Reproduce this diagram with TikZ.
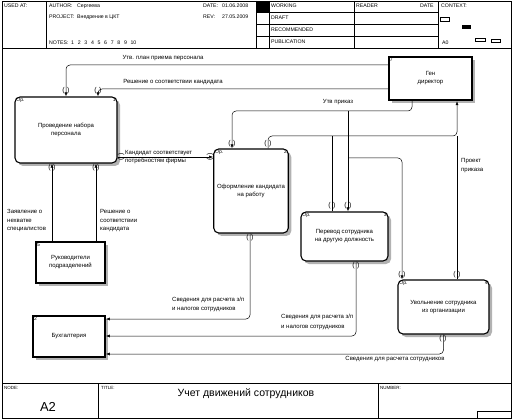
\documentclass[tikz,border=0pt]{standalone}
\usepackage{fontspec}
\setmainfont{Liberation Sans}
\usetikzlibrary{arrows.meta,shadows}

\begin{document}
\begin{tikzpicture}[x=1pt,y=-1pt,
    >={Latex[length=4pt,width=3pt]},
    txt/.style={font=\fontsize{6}{8}\selectfont,inner sep=0pt},
    hdr/.style={font=\fontsize{5.2}{6}\selectfont,inner sep=0pt,anchor=west},
    ftr/.style={font=\fontsize{4.5}{5}\selectfont,inner sep=0pt,anchor=west},
    proc/.style={draw,rounded corners=5pt,line width=1.1pt,fill=white,
      drop shadow={shadow xshift=3pt,shadow yshift=-3pt,fill=gray!60,opacity=1},
      align=center,font=\fontsize{6}{8}\selectfont},
    ext/.style={draw,line width=1.6pt,fill=white,
      drop shadow={shadow xshift=3pt,shadow yshift=-3pt,fill=gray!60,opacity=1},
      align=center,font=\fontsize{6}{8}\selectfont},
    corner/.style={font=\fontsize{5}{6}\selectfont,inner sep=1.8pt},
    flow/.style={->,rounded corners=4pt,line width=0.5pt},
    link/.style={rounded corners=4pt,line width=0.5pt},
    tun/.style={font=\fontsize{7}{7}\selectfont,inner sep=0pt}]

            \useasboundingbox (0,0) rectangle (513,419);

            \draw[line width=0.6pt] (2,1) rectangle (511,418);
            \draw[line width=0.6pt] (2,48) -- (511,48);
            \foreach \x in {46,256,269,354,438}{
              \draw[line width=0.6pt] (\x,1) -- (\x,48);
            }
            \foreach \y in {12,24,36}{
              \draw[line width=0.6pt] (256,\y) -- (438,\y);
            }
            \fill (257,1) rectangle (269,12);
            \draw[line width=0.5pt] (440,17) rectangle (449,21);
            \fill (462,25) rectangle (471,29);
            \draw[line width=0.5pt] (475,38) rectangle (485,41);
            \draw[line width=0.5pt] (491,39) rectangle (500,42);

            \draw[line width=0.6pt] (2,383) -- (511,383);
            \draw[line width=0.6pt] (98,383) -- (98,418);
            \draw[line width=0.6pt] (378,383) -- (378,418);
            \draw[line width=0.6pt] (477,418) -- (477,411) -- (511,411);

            \node[hdr] (usedat) at (4,6) {USED AT:};
            \node[hdr] (author) at (49,6) {AUTHOR:};
            \node[hdr] (authorv) at (77,6) {Сергеева};
            \node[hdr] (project) at (49,17) {PROJECT:};
            \node[hdr] (projectv) at (77,17) {Внедрение в ЦКТ};
            \node[hdr] (notes) at (49,43) {NOTES:};
            \foreach \n in {1,...,10}{
              \node[hdr] (note\n) at (64.4+6.6*\n,43) {\n};
            }
            \node[hdr] (date) at (203,6) {DATE:};
            \node[hdr] (datev) at (222,6) {01.06.2008};
            \node[hdr] (rev) at (203,17) {REV:};
            \node[hdr] (revv) at (222,17) {27.05.2009};
            \node[hdr] (working) at (271,6) {WORKING};
            \node[hdr] (draft) at (271,18) {DRAFT};
            \node[hdr] (recom) at (271,30) {RECOMMENDED};
            \node[hdr] (publ) at (271,42) {PUBLICATION};
            \node[hdr] (reader) at (356,6) {READER};
            \node[hdr] (rdate) at (420,6) {DATE};
            \node[hdr] (context) at (441,6) {CONTEXT:};
            \node[hdr] (ctxnode) at (442,43) {A0};

            \node[ftr] (nodelbl) at (4,388) {NODE:};
            \node[ftr] (titlelbl) at (101,388) {TITLE:};
            \node[ftr] (numlbl) at (380,388) {NUMBER:};
            \node[font=\fontsize{13}{13}\selectfont,inner sep=0pt] (nodenum) at (48,407) {A2};
            \node[font=\fontsize{10.5}{12}\selectfont,inner sep=0pt] (title) at (246,394) {Учет движений сотрудников};

            \node[proc,minimum width=102pt,minimum height=66pt,
              label={[corner,anchor=north west]north west:Ор.},
              label={[corner,anchor=north east]north east:1}] (p1) at (66,130) {Проведение набора\\персонала};
            \node[proc,minimum width=74pt,minimum height=84pt,
              label={[corner,anchor=north west]north west:Ор.},
              label={[corner,anchor=north east]north east:2}] (p2) at (251,191) {Оформление кандидата\\на работу};
            \node[proc,minimum width=87pt,minimum height=49pt,
              label={[corner,anchor=north west]north west:Ор.},
              label={[corner,anchor=north east]north east:3}] (p3) at (344.5,236.5) {Перевод сотрудника\\на другую должность};
            \node[proc,minimum width=91pt,minimum height=54pt,
              label={[corner,anchor=north west]north west:Ор.},
              label={[corner,anchor=north east]north east:4}] (p4) at (443.5,307) {Увольнение сотрудника\\из организации};
            \node[ext,line width=2.4pt,minimum width=83pt,minimum height=43pt,
              label={[corner,anchor=north west]north west:7}] (gen) at (430.5,78.5) {Ген\\директор};
            \node[ext,minimum width=69pt,minimum height=41pt,
              label={[corner,anchor=north west]north west:5}] (p5) at (70.5,262.5) {Руководители\\подразделений};
            \node[ext,minimum width=72pt,minimum height=41pt,
              label={[corner,anchor=north west]north west:2}] (acc) at (69,336.5) {Бухгалтерия};

            \coordinate (ya) at (0,65);
            \coordinate (yb) at (0,89);
            \coordinate (yc) at (0,157);
            \coordinate (xb) at (98,0);
            \coordinate (xd) at (52,0);
            \coordinate (xe) at (96,0);
            \coordinate (xf) at (412,0);
            \coordinate (yg) at (0,111);
            \coordinate (xh) at (232,0);
            \coordinate (xi) at (348,0);
            \coordinate (yj) at (0,158);
            \coordinate (xk) at (402,0);
            \coordinate (xl) at (268,0);
            \coordinate (xm) at (457,0);
            \coordinate (yn) at (0,136);
            \coordinate (xo) at (332,0);
            \coordinate (xp) at (250,0);
            \coordinate (yq) at (0,319);
            \coordinate (xr) at (356,0);
            \coordinate (ys) at (0,336);
            \coordinate (yu) at (0,354);

            \draw[flow] (gen.west |- ya) -| (p1.north);
            \draw[flow] (gen.west |- yb) -| (p1.north -| xb);
            \draw[flow] (p1.east |- yc) -- (p2.west |- yc);
            \draw[flow] (p5.north -| xd) -- (p1.south -| xd);
            \draw[flow] (p5.north -| xe) -- (p1.south -| xe);
            \draw[flow] (gen.south -| xf) |- (xh |- yg) -- (p2.north -| xh);
            \draw[flow] (xi |- yg) -- (p3.north -| xi);
            \draw[flow] (xi |- yj) -| (p4.north -| xk);
            \draw[flow] (p2.north -| xl) |- (xm |- yn) -- (gen.south -| xm);
            \draw[link] (p3.north -| xo) -- (xo |- yn);
            \draw[link] (p4.north -| xm) -- (xm |- yn);
            \draw[flow] (p2.south -| xp) |- (acc.east |- yq);
            \draw[flow] (p3.south -| xr) |- (acc.east |- ys);
            \draw[flow] (p4.south) |- (acc.east |- yu);

            \foreach \x/\y [count=\i] in {66/91,98/91,52/168,96/168,232/144,268/144,250/238,332/206,348/206,356/266,402/275,457/275,443/339}{
              \node[tun] (tv\i) at (\x,\y) {(\hspace{2.4pt})};
            }
            \foreach \x [count=\i] in {121,210}{
              \node[tun,rotate=90] (th\i) at (\x,157) {(\hspace{2.4pt})};
            }

            \node[txt] (lplan) at (163,58) {Утв. план приема персонала};
            \node[txt] (ldec) at (173,82) {Решение о соответствии кандидата};
            \node[txt,align=left,anchor=west] (lcand) at (125,156.7) {Кандидат соответствует\\потребностям фирмы};
            \node[txt,align=left,anchor=west,font=\fontsize{6}{8.5}\selectfont] (lappl) at (7,220.7) {Заявление о\\нехватке\\специалистов};
            \node[txt,align=left,anchor=west,font=\fontsize{6}{8.5}\selectfont] (ldec2) at (100,220.7) {Решение о\\соответствии\\кандидата};
            \node[txt] (lord) at (338,102) {Утв приказ};
            \node[txt,align=left,anchor=west,font=\fontsize{6}{9}\selectfont] (lproj) at (461,166) {Проект\\приказа};
            \node[txt,align=left,anchor=west,font=\fontsize{6}{9}\selectfont] (lsal1) at (172,304.5) {Сведения для расчета з/п\\и налогов сотрудников};
            \node[txt,align=left,anchor=west,font=\fontsize{6}{10}\selectfont] (lsal2) at (281,321.5) {Сведения для расчета з/п\\и налогов сотрудников};
            \node[txt] (lsal3) at (395,359) {Сведения для расчета сотрудников};

\end{tikzpicture}
\end{document}
